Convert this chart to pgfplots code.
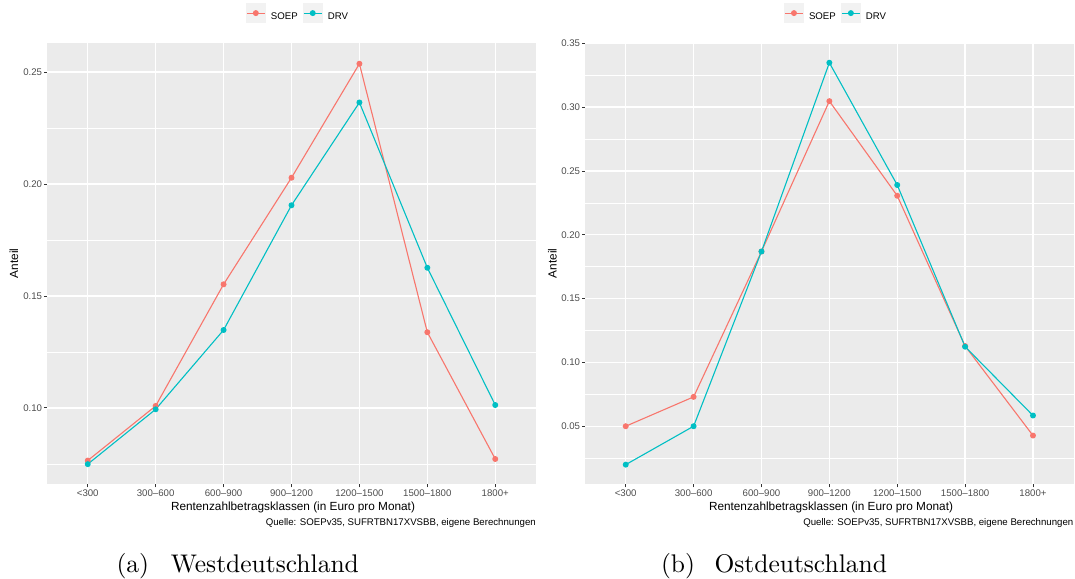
\documentclass[border=0pt]{standalone}
\usepackage{fontspec}
\usepackage{pgfplots}
\pgfplotsset{compat=1.18}
\newfontfamily\lib{Liberation Sans}
\definecolor{bgGray}{HTML}{EBEBEB}
\definecolor{keyGray}{HTML}{F2F2F2}
\definecolor{tickText}{HTML}{4D4D4D}
\definecolor{tickGray}{HTML}{333333}
\definecolor{soep}{HTML}{F8766D}
\definecolor{drv}{HTML}{00BFC4}
\newcommand{\tickfont}{\lib\fontsize{9.65bp}{11bp}\selectfont}
\newcommand{\titlefont}{\lib\fontsize{11.8bp}{14bp}\selectfont}
\newcommand{\capfont}{\fontsize{10pt}{12pt}\selectfont}

\pgfplotsset{
  ggstyle/.style={
    scale only axis, width=489bp, height=441.6bp, anchor=south west,
    axis background/.style={fill=bgGray},
    axis line style={draw=none},
    xmin=-0.6, xmax=6.6,
    xtick={0,1,2,3,4,5,6},
    xticklabels={<300,300–600,600–900,900–1200,1200–1500,1500–1800,1800+},
    tick pos=left, tick align=outside,
    major tick length=3bp, minor tick length=0pt,
    major tick style={draw=tickGray, line width=0.9bp},
    xmajorgrids, ymajorgrids, yminorgrids,
    major grid style={white, line width=1.4bp},
    minor grid style={white, line width=0.7bp},
    tick label style={font=\tickfont, text=tickText},
    /pgf/number format/fixed,
    /pgf/number format/fixed zerofill,
    /pgf/number format/precision=2,
    /pgf/number format/assume math mode=true,
    yticklabel style={inner sep=0pt, anchor=east, xshift=-1.7bp},
    xticklabel style={inner sep=0pt, anchor=north, yshift=-2.7bp},
    legend image code/.code={
      \fill[keyGray] (0bp,-6bp) rectangle (19bp,13bp);
      \draw[mark repeat=2,mark phase=2,#1] plot coordinates {(0.5bp,3.5bp) (9.5bp,3.5bp) (18.5bp,3.5bp)};
    },
    legend style={draw=none, fill=none, inner sep=0pt, outer sep=0pt,
      font=\tickfont, text=black, column sep=5bp,
      nodes={inner sep=0pt}, legend columns=2, anchor=center},
    legend cell align=left,
  },
  soepline/.style={color=soep, line width=1.1bp, mark=*, mark size=2.4bp, mark options={solid}},
  drvline/.style={color=drv, line width=1.1bp, mark=*, mark size=2.4bp, mark options={solid}},
}

\begin{document}
\begin{tikzpicture}
\path[use as bounding box] (0,0) rectangle (1075bp,579bp);

% Westdeutschland
\begin{axis}[ggstyle, at={(47bp,94.7bp)},
  ymin=0.0659, ymax=0.2631,
  ytick={0.10,0.15,0.20,0.25},
  minor ytick={0.075,0.125,0.175,0.225},
  legend style={at={(0.511,1.067)}}]
\addplot[soepline] coordinates {(0,0.0765) (1,0.1009) (2,0.1552) (3,0.2028) (4,0.2537) (5,0.1338) (6,0.0772)};
\addlegendentry{SOEP}
\addplot[drvline] coordinates {(0,0.0749) (1,0.0994) (2,0.1348) (3,0.1905) (4,0.2364) (5,0.1626) (6,0.1013)};
\addlegendentry{DRV}
\end{axis}

% Ostdeutschland
\begin{axis}[ggstyle, at={(585bp,94.7bp)}, width=488.7bp,
  ymin=0.0045, ymax=0.3505,
  ytick={0.05,0.10,0.15,0.20,0.25,0.30,0.35},
  minor ytick={0.025,0.075,0.125,0.175,0.225,0.275,0.325},
  legend style={at={(0.5116,1.067)}}]
\addplot[soepline] coordinates {(0,0.0500) (1,0.0730) (2,0.1869) (3,0.3047) (4,0.2306) (5,0.1128) (6,0.0427)};
\addlegendentry{SOEP}
\addplot[drvline] coordinates {(0,0.0199) (1,0.0500) (2,0.1869) (3,0.3348) (4,0.2390) (5,0.1123) (6,0.0584)};
\addlegendentry{DRV}
\end{axis}

% axis titles
\node[font=\titlefont, anchor=base, inner sep=0pt] at (293bp,68.5bp) {Rentenzahlbetragsklassen (in Euro pro Monat)};
\node[font=\titlefont, anchor=base, inner sep=0pt] at (831bp,68.5bp) {Rentenzahlbetragsklassen (in Euro pro Monat)};
\node[font=\titlefont, rotate=90, inner sep=0pt] at (13.9bp,315.5bp) {Anteil};
\node[font=\titlefont, rotate=90, inner sep=0pt] at (552.5bp,315.5bp) {Anteil};

% source notes
\node[font=\tickfont, anchor=east, inner sep=0pt] at (536bp,56bp) {Quelle: SOEPv35, SUFRTBN17XVSBB, eigene Berechnungen};
\node[font=\tickfont, anchor=east, inner sep=0pt] at (1073.5bp,56bp) {Quelle: SOEPv35, SUFRTBN17XVSBB, eigene Berechnungen};

% captions
\node[font=\capfont, scale=2.56, anchor=base west, inner sep=0pt] at (116bp,7bp) {(a)};
\node[font=\capfont, scale=2.56, anchor=base west, inner sep=0pt] at (170.3bp,7bp) {Westdeutschland};
\node[font=\capfont, scale=2.56, anchor=base west, inner sep=0pt] at (660.5bp,7bp) {(b)};
\node[font=\capfont, scale=2.56, anchor=base west, inner sep=0pt] at (714bp,7bp) {Ostdeutschland};
\end{tikzpicture}
\end{document}
